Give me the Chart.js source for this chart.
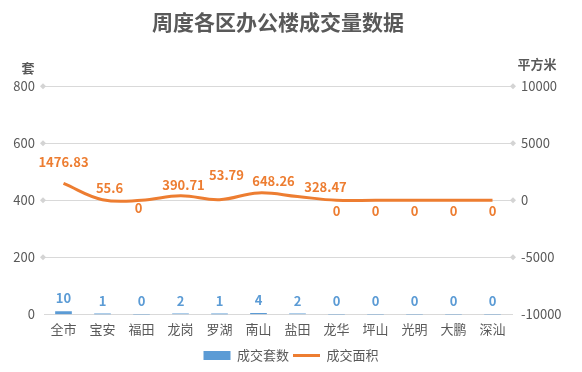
<!DOCTYPE html>
<html>
<head>
<meta charset="utf-8">
<script src="https://cdn.jsdelivr.net/npm/chart.js@4.4.1/dist/chart.umd.min.js"></script>
<style>
html,body{margin:0;padding:0;background:#fff;}
#wrap{width:582px;height:372px;}
</style>
</head>
<body>
<div id="wrap"><canvas id="c" width="582" height="372"></canvas></div>
<script>
const categories = ['全市','宝安','福田','龙岗','罗湖','南山','盐田','龙华','坪山','光明','大鹏','深汕'];
const unitsSold = [10, 1, 0, 2, 1, 4, 2, 0, 0, 0, 0, 0];
const areaSold = [1476.83, 55.6, 0, 390.71, 53.79, 648.26, 328.47, 0, 0, 0, 0, 0];
const leftTicks = [0, 200, 400, 600, 800];
const rightTicks = [-10000, -5000, 0, 5000, 10000];

const FONT = "'Noto Sans CJK SC', 'Noto Sans', sans-serif";
const TXT = '#595959';
const BLUE = '#5b9bd5';
const ORANGE = '#ed7d31';

// label offsets (style only): [dx, dy] relative to point
const lineLabelOffsets = [[0,-21],[7,-12],[-3,8],[3,-11],[7,-25],[15,-12],[28,-9],[0,11],[0,11],[0,11],[0,11],[0,11]];

function diamond(ctx, x, y, r){
  ctx.beginPath();
  ctx.moveTo(x, y - r); ctx.lineTo(x + r, y); ctx.lineTo(x, y + r); ctx.lineTo(x - r, y);
  ctx.closePath(); ctx.fill();
}

const decor = {
  id: 'decor',
  afterDraw(chart){
    const {ctx, chartArea, scales} = chart;
    ctx.save();
    ctx.fillStyle = '#d4d4d4';
    leftTicks.forEach(v => { if (v !== 0) diamond(ctx, chartArea.left - 1, scales.y.getPixelForValue(v), 3); });
    rightTicks.forEach(v => { if (v !== -10000) diamond(ctx, chartArea.right + 1, scales.y1.getPixelForValue(v), 3); });
    // axis titles
    ctx.fillStyle = TXT;
    ctx.font = 'bold 13px ' + FONT;
    ctx.textAlign = 'center'; ctx.textBaseline = 'middle';
    ctx.fillText('套', 28, 68);
    ctx.fillText('平方米', 537, 64);
    // data labels
    ctx.font = 'bold 13px ' + FONT;
    const barMeta = chart.getDatasetMeta(0);
    ctx.fillStyle = BLUE;
    barMeta.data.forEach((el, i) => {
      ctx.fillText(String(unitsSold[i]), el.x, el.y - 13);
    });
    const lineMeta = chart.getDatasetMeta(1);
    ctx.fillStyle = ORANGE;
    lineMeta.data.forEach((el, i) => {
      const o = lineLabelOffsets[i];
      ctx.fillText(String(areaSold[i]), el.x + o[0], el.y + o[1]);
    });
    ctx.restore();
  }
};

new Chart(document.getElementById('c'), {
  type: 'bar',
  data: {
    labels: categories,
    datasets: [
      {
        type: 'bar', label: '成交套数', data: unitsSold, yAxisID: 'y',
        backgroundColor: BLUE, barThickness: 16, pointStyle: 'rect', order: 2
      },
      {
        type: 'line', label: '成交面积', data: areaSold, yAxisID: 'y1',
        borderColor: ORANGE, backgroundColor: ORANGE, borderWidth: 3,
        pointRadius: 0, tension: 0.4, pointStyle: 'line', order: 1
      }
    ]
  },
  options: {
    responsive: false,
    animation: false,
    layout: { padding: { top: 0, bottom: 0, left: 0, right: 0 } },
    plugins: {
      title: {
        display: true, text: '周度各区办公楼成交量数据', color: TXT, fullSize: false,
        font: { family: FONT, size: 21, weight: 'bold' },
        padding: { top: 9, bottom: 52 }
      },
      legend: {
        position: 'bottom',
        labels: {
          usePointStyle: true, pointStyleWidth: 27, boxHeight: 9,
          color: TXT, font: { family: FONT, size: 13 }, padding: 4,
          sort: (a, b) => a.datasetIndex - b.datasetIndex
        }
      },
      tooltip: { enabled: false }
    },
    scales: {
      x: {
        grid: { display: false, drawTicks: false },
        border: { display: true, color: '#d9d9d9' },
        afterFit: s => { s.height += 1; },
        ticks: { color: TXT, font: { family: FONT, size: 13 }, padding: 7, maxRotation: 0, autoSkip: false }
      },
      y: {
        position: 'left', min: 0, max: 800,
        afterBuildTicks: s => { s.ticks = leftTicks.map(v => ({value: v})); },
        afterFit: s => { s.width = 44; },
        grid: { color: '#d9d9d9', drawTicks: false },
        border: { display: false },
        ticks: { color: TXT, font: { family: FONT, size: 13 }, padding: 9 }
      },
      y1: {
        position: 'right', min: -10000, max: 10000,
        afterBuildTicks: s => { s.ticks = rightTicks.map(v => ({value: v})); },
        afterFit: s => { s.width = 70; },
        grid: { display: false, drawTicks: false },
        border: { display: false },
        ticks: { color: TXT, font: { family: FONT, size: 13 }, padding: 9, callback: v => String(v) }
      }
    }
  },
  plugins: [decor]
});
</script>
</body>
</html>
